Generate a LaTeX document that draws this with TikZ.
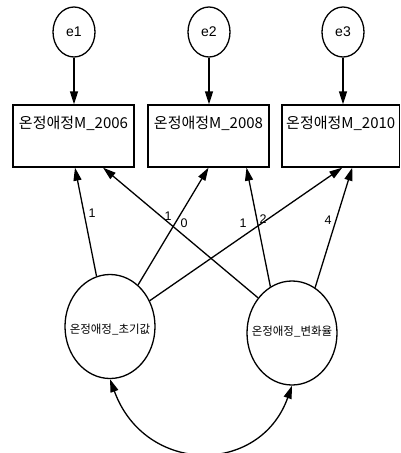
\documentclass[tikz,border=0pt]{standalone}
\usepackage{fontspec}
\setmainfont{Liberation Sans}
\newfontfamily\krfont{Noto Sans CJK KR}
\usetikzlibrary{arrows.meta, positioning, shapes.geometric, calc}

\begin{document}
\begin{tikzpicture}[x=1pt, y=-1pt, line width=1.3pt,
    errnode/.style={draw, ellipse, minimum width=42, minimum height=50, inner sep=0pt, font=\fontsize{14}{16}\selectfont},
    obsbox/.style={draw, rectangle, minimum height=62, inner sep=0pt},
    latnode/.style={draw, ellipse, minimum width=90, minimum height=104, inner sep=0pt},
    lattext/.style={font=\krfont\fontsize{11.5}{13}\selectfont, inner sep=0pt},
    boxtext/.style={font=\krfont\fontsize{15}{17}\selectfont, inner sep=0pt},
    coef/.style={font=\fontsize{12.5}{14}\selectfont, inner sep=0pt},
    path/.style={-{Triangle[length=13pt, width=8pt]}},
    cov/.style={{Triangle[length=13pt, width=8pt]}-{Triangle[length=13pt, width=8pt]}}]
                \useasboundingbox (0,0) rectangle (401,453);

                % Error terms
                \node[errnode] (e1) at (74,32) {e1};
                \node[errnode] (e2) at (209,32) {e2};
                \node[errnode] (e3) at (343,32) {e3};

                % Observed variables
                \node[obsbox, minimum width=121] (m1) at (73.5,136) {};
                \node[obsbox, minimum width=121] (m2) at (208.5,136) {};
                \node[obsbox, minimum width=117.5] (m3) at (340.75,136) {};
                \node[boxtext] (t1) at ($(m1.north)+(0,19)$) {온정애정M\_2006};
                \node[boxtext] (t2) at ($(m2.north)+(0,19)$) {온정애정M\_2008};
                \node[boxtext] (t3) at ($(m3.north)+(0,19)$) {온정애정M\_2010};

                % Latent factors
                \node[latnode] (init) at (110,326.5) {};
                \node[latnode] (slope) at (292,333) {};
                \node[lattext] (initlab) at ($(init.center)+(0,3)$) {온정애정\_초기값};
                \node[lattext] (slopelab) at ($(slope.center)+(0,-1)$) {온정애정\_변화율};

                % Error paths
                \draw[path] (e1) -- (e1 |- m1.north);
                \draw[path] (e2) -- (e2 |- m2.north);
                \draw[path] (e3) -- (e3 |- m3.north);

                % Loadings
                \draw[path] (init.105) -- ($(m1.south)+(1.5,0)$);
                \draw[path] (init.56) -- ($(m2.south)+(0,0)$);
                \draw[path] (init.33) -- ($(m3.south)+(1.5,0)$);
                \draw[path] (slope.134) -- ($(m1.south)+(29.5,0)$);
                \draw[path] (slope.115) -- ($(m2.south)+(38,0)$);
                \draw[path] (slope.63) -- ($(m3.south)+(11.5,0)$);

                \node[coef] (c1) at (92,213) {1};
                \node[coef] (c2) at (168,216) {1};
                \node[coef] (c3) at (184,223) {0};
                \node[coef] (c4) at (243,223) {1};
                \node[coef] (c5) at (263,219) {2};
                \node[coef] (c6) at (328,220) {4};

                % Covariance
                \draw[cov] (init.south) .. controls +(35,96) and +(-32,90) .. (slope.south);
            \end{tikzpicture}
\end{document}
